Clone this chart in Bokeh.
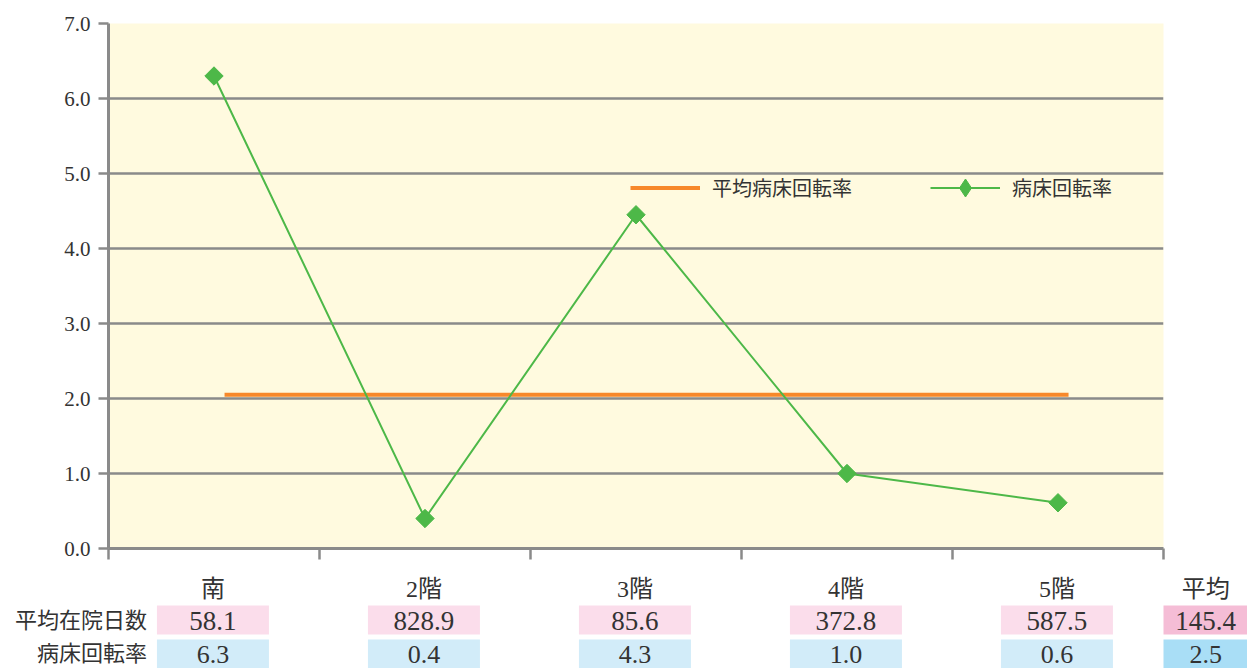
import math
from bokeh.plotting import figure
from bokeh.models import Range1d, FixedTicker, Legend, LegendItem, PrintfTickFormatter
from bokeh.layouts import column, row
from bokeh.core.properties import value
from bokeh.embed import file_html
from bokeh.resources import INLINE

# ---- data ----
categories = ["南", "2階", "3階", "4階", "5階"]
turnover = [6.3, 0.4, 4.45, 1.0, 0.61]
avg_turnover = 2.05
table_header = ["南", "2階", "3階", "4階", "5階", "平均"]
avg_stay_txt = ["58.1", "828.9", "85.6", "372.8", "587.5", "145.4"]
turnover_txt = ["6.3", "0.4", "4.3", "1.0", "0.6", "2.5"]
row_labels = ["平均在院日数", "病床回転率"]
y_ticks = [0, 1, 2, 3, 4, 5, 6, 7]
legend_labels = ["平均病床回転率", "病床回転率"]

FONT = "'Liberation Serif', 'Noto Sans CJK JP'"
GREEN = "#4DB848"
ORANGE = "#F7882A"
GRAY = "#8A8A8A"
TXT = "#333333"

n = len(categories)
centers = [i + 0.5 for i in range(n)]

# ---- chart ----
p = figure(frame_width=1055, frame_height=525,
           x_range=Range1d(0, n), y_range=Range1d(0, 7),
           output_backend="svg", toolbar_location=None,
           min_border_left=108, min_border_right=84,
           min_border_top=23, min_border_bottom=18)
p.background_fill_color = "#FFFADF"
p.border_fill_color = "white"
p.outline_line_color = None

p.xgrid.visible = False
p.ygrid.ticker = FixedTicker(ticks=y_ticks)
p.ygrid.grid_line_color = GRAY
p.ygrid.grid_line_width = 2.5

p.yaxis.ticker = FixedTicker(ticks=y_ticks)
p.yaxis.formatter = PrintfTickFormatter(format="%.1f")
p.yaxis.axis_line_color = GRAY
p.yaxis.axis_line_width = 3
p.yaxis.major_tick_line_color = GRAY
p.yaxis.major_tick_line_width = 2.5
p.yaxis.major_tick_out = 10
p.yaxis.major_tick_in = 0
p.yaxis.minor_tick_line_color = None
p.yaxis.major_label_text_font = FONT
p.yaxis.major_label_text_font_size = "21px"
p.yaxis.major_label_text_color = TXT
p.yaxis.major_label_standoff = 8

bounds = list(range(n + 1))
p.xaxis.ticker = FixedTicker(ticks=bounds)
p.xaxis.major_label_overrides = {b: "" for b in bounds}
p.xaxis.axis_line_color = GRAY
p.xaxis.axis_line_width = 3
p.xaxis.major_tick_line_color = GRAY
p.xaxis.major_tick_line_width = 2.5
p.xaxis.major_tick_out = 11
p.xaxis.major_tick_in = 0
p.xaxis.minor_tick_line_color = None
p.xaxis.major_label_standoff = 0

avg_r = p.line(x=[c + 0.05 for c in centers], y=[avg_turnover] * n,
               line_color=ORANGE, line_width=4)
line_r = p.line(x=centers, y=turnover, line_color=GREEN, line_width=2)
pts_r = p.scatter(x=centers, y=turnover, marker="square", angle=math.pi / 4,
                  size=13, fill_color=GREEN, line_color=GREEN)
# legend proxy (no data drawn): diamond symbol for the legend entry
proxy_r = p.scatter(x=[float("nan")], y=[float("nan")], marker="diamond",
                    size=18, fill_color=GREEN, line_color=GREEN)

legend = Legend(items=[LegendItem(label=legend_labels[0], renderers=[avg_r]),
                       LegendItem(label=legend_labels[1], renderers=[line_r, proxy_r])],
                orientation="horizontal", location=(522, 338),
                border_line_color=None, background_fill_alpha=0,
                glyph_width=70, glyph_height=45, label_standoff=12,
                spacing=78, padding=0, margin=0,
                label_text_font=FONT, label_text_font_size="20px",
                label_text_color=TXT)
p.add_layout(legend)

# ---- table ----
unit = 211.0
W = 1247
H = 102
x0 = -108 / unit
t = figure(width=W, height=H, x_range=Range1d(x0, x0 + W / unit),
           y_range=Range1d(H, 0), output_backend="svg",
           toolbar_location=None, min_border=0)
t.axis.visible = False
t.grid.visible = False
t.outline_line_color = None
t.background_fill_color = "white"
t.border_fill_color = "white"

col_x = [i + 0.495 for i in range(n)] + [n + 0.2]
cell_w = [112 / unit] * n + [0.4]
pink = ["#FBDDEB"] * n + ["#F5BDD6"]
blue = ["#D2ECF9"] * n + ["#A9DEF6"]
y_head, y_r1, y_r2, cell_h = 22, 53.5, 87.5, 29

t.rect(x=col_x, y=[y_r1] * (n + 1), width=cell_w, height=cell_h,
       fill_color=pink, line_color=None)
t.rect(x=col_x, y=[y_r2] * (n + 1), width=cell_w, height=cell_h,
       fill_color=blue, line_color=None)

common = dict(text_font=value(FONT), text_color=TXT,
              text_align="center", text_baseline="middle")
t.text(x=col_x, y=[y_head] * (n + 1), text=table_header,
       text_font_size="24px", **common)
t.text(x=col_x, y=[y_r1 + 1] * (n + 1), text=avg_stay_txt,
       text_font_size="27px", **common)
t.text(x=col_x, y=[y_r2] * (n + 1), text=turnover_txt,
       text_font_size="26px", **common)
lab_x = col_x[0] - cell_w[0] / 2 - 10 / unit
t.text(x=[lab_x, lab_x], y=[y_r1, y_r2 - 1], text=row_labels,
       text_font=value(FONT), text_color=TXT, text_align="right",
       text_baseline="middle", text_font_size="22px")

layout = column(p, row(t), spacing=0)
open("out.html", "w").write(file_html(layout, INLINE))
